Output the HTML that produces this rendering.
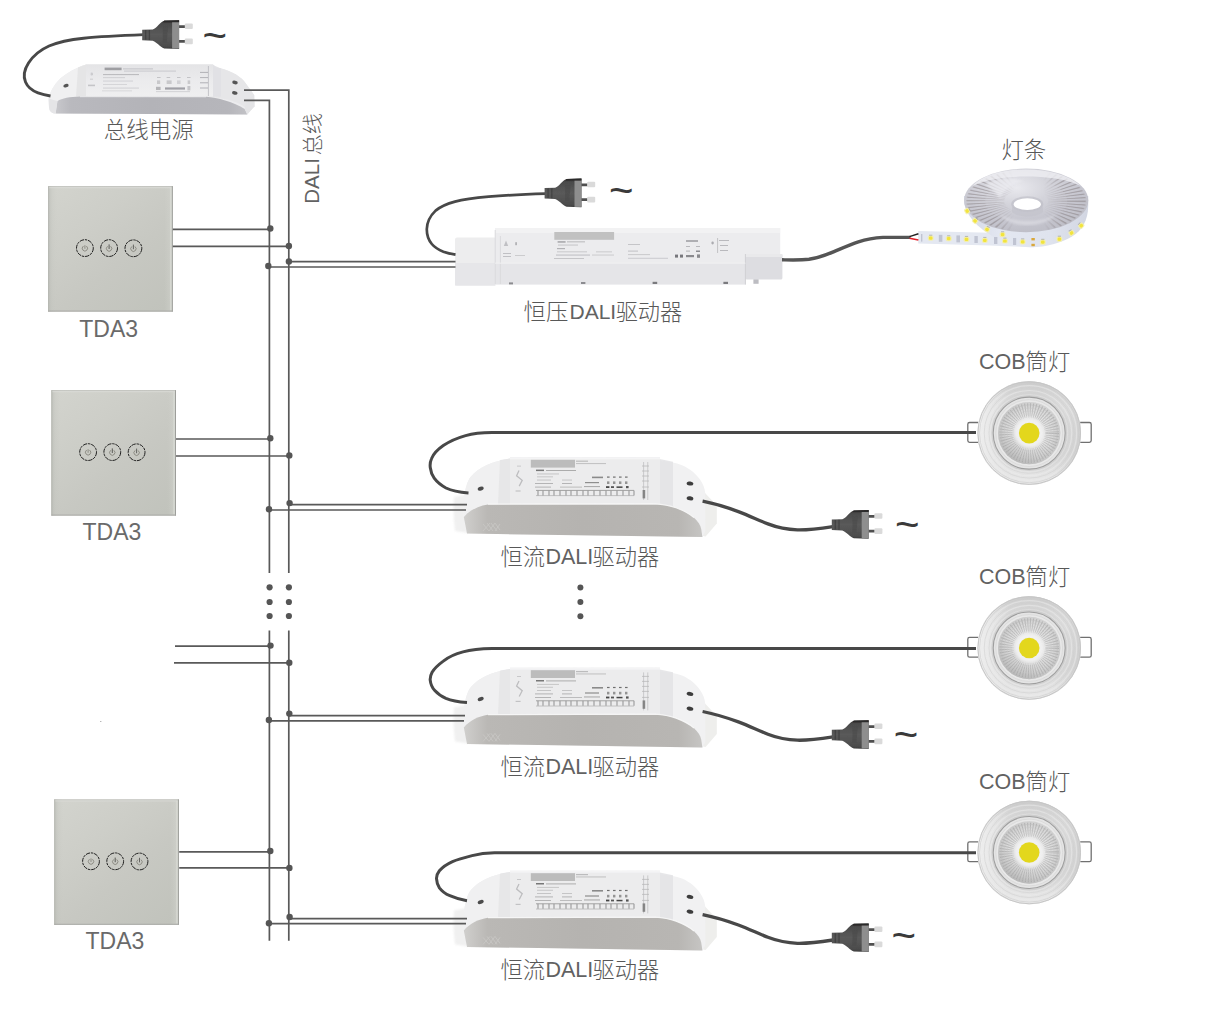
<!DOCTYPE html>
<html lang="zh">
<head>
<meta charset="utf-8">
<title>DALI 总线 接线图</title>
<style>
html,body{margin:0;padding:0;background:#fff;}
body{width:1220px;height:1036px;overflow:hidden;font-family:"Liberation Sans",sans-serif;}
svg{display:block;}
#labels text,#tildes text{font-family:"Liberation Sans","Noto Sans CJK SC",sans-serif;font-weight:300;}
</style>
</head>
<body>
<svg width="1220" height="1036" viewBox="0 0 1220 1036">
<defs>
  <filter id="b03" x="-5%" y="-5%" width="110%" height="110%"><feGaussianBlur stdDeviation="0.35"/></filter>
  <filter id="b05" x="-5%" y="-5%" width="110%" height="110%"><feGaussianBlur stdDeviation="0.55"/></filter>
  <filter id="b08" x="-5%" y="-5%" width="110%" height="110%"><feGaussianBlur stdDeviation="0.8"/></filter>
  <filter id="b15" x="-10%" y="-10%" width="120%" height="120%"><feGaussianBlur stdDeviation="1.5"/></filter>

  <!-- touch panel -->
  <linearGradient id="pgv" x1="0.1" y1="0" x2="0.9" y2="1">
    <stop offset="0" stop-color="#d2d3cd"/><stop offset="0.3" stop-color="#cdcec8"/>
    <stop offset="0.6" stop-color="#c7c8c2"/><stop offset="1" stop-color="#c1c3bc"/>
  </linearGradient>
  <linearGradient id="pgh" x1="0" y1="0" x2="1" y2="0">
    <stop offset="0" stop-color="#b4b6b0" stop-opacity="0.6"/><stop offset="0.035" stop-color="#c2c4be" stop-opacity="0.25"/><stop offset="0.07" stop-color="#c6c7c1" stop-opacity="0"/>
    <stop offset="0.93" stop-color="#d2d3cd" stop-opacity="0"/><stop offset="1" stop-color="#d6d8d2" stop-opacity="0.55"/>
  </linearGradient>
  <g id="pbtn">
    <circle r="8.4" fill="none" stroke="#161616" stroke-width="0.95" stroke-dasharray="4.4 0.9 2.4 0.8"/>
  </g>
  <g id="panel">
    <rect x="0" y="0" width="124.6" height="125.4" fill="url(#pgv)"/>
    <rect x="0" y="0" width="124.6" height="125.4" fill="url(#pgh)"/>
    <path d="M0.4 0V125.4" stroke="#aeb0aa" stroke-width="0.8" opacity=".8"/>
    <path d="M0 0.5H124.6" stroke="#b8b9b4" stroke-width="1" opacity=".7"/>
    <path d="M1 1.5H123.6" stroke="#dddeda" stroke-width="1" opacity=".8"/>
    <path d="M124.1 0V125.4" stroke="#9d9e9a" stroke-width="1"/>
    <path d="M122.6 1.5V124" stroke="#dcded8" stroke-width="1.4" opacity=".7"/>
    <path d="M0 124.9H124.6" stroke="#a6a7a3" stroke-width="1" opacity=".9"/>
    <use href="#pbtn" x="36.7" y="61.9"/>
    <use href="#pbtn" x="60.9" y="61.9"/>
    <use href="#pbtn" x="85.2" y="62.1"/>
    <g fill="none" stroke="#7d7c74" stroke-width="0.8" stroke-linecap="round">
      <path d="M34.9 60.1a2.7 2.7 0 1 0 3.6 0M36.7 59.4v2.8"/>
      <path d="M59.1 60.3a2.7 2.7 0 1 0 3.6 0"/><path d="M60.9 58.6v3.8" stroke="#3c3c3a"/>
      <path d="M83.4 60.5a2.7 2.7 0 1 0 3.6 0"/><path d="M85.2 58.8v3.8" stroke="#4a4a48"/>
    </g>
  </g>

  <!-- mains plug : origin = left end of neck, vertical centre -->
  <linearGradient id="plg" x1="0" y1="0" x2="0" y2="1">
    <stop offset="0" stop-color="#2e2c2c"/><stop offset="0.12" stop-color="#4a4a4a"/><stop offset="0.5" stop-color="#5a5a5a"/>
    <stop offset="0.9" stop-color="#4c4c4c"/><stop offset="1" stop-color="#3c3c3c"/>
  </linearGradient>
  <linearGradient id="prg" x1="0" y1="0" x2="1" y2="0">
    <stop offset="0" stop-color="#4a4a4a"/><stop offset="0.4" stop-color="#5c5c5c"/><stop offset="0.46" stop-color="#d2d2d2"/><stop offset="1" stop-color="#e4e4e4"/>
  </linearGradient>
  <g id="plug">
    <g filter="url(#b03)">
      <path d="M36 -9.4H43V-6.7H36Z M36 5.4H43V8.1H36Z" fill="#505050"/>
      <rect x="42.6" y="-11.2" width="8" height="5.6" rx="1" fill="#dadada"/>
      <rect x="42.6" y="3.8" width="8" height="5.8" rx="1" fill="#dadada"/>
      <path d="M0 -4.9 L10.5 -5.2 C15 -6.8 17.5 -12.3 22 -13.9 L36.9 -14.3 V14.3 L22 13.9 C17.5 12.3 15 7.6 10.5 6.1 L0 5.6 Z" fill="url(#plg)"/>
      <rect x="29.9" y="-12.6" width="7" height="26.6" fill="#8e8e8e"/>
      <path d="M22 -14 L36.9 -14.3 V-12.3 H21 Z" fill="#2b2929"/>
      <path d="M3.5 -4.5V5.2M7.2 -4.6V5.4" stroke="#3a3a3a" stroke-width="1.3" opacity=".7"/>
      <path d="M20.5 -8 L26 -8 L24.5 8 L20.5 8Z" fill="#4b4b4b" opacity=".6"/>
    </g>
  </g>

  <!-- bus power supply gradients -->
  <linearGradient id="psuF" x1="0" y1="0" x2="1" y2="0">
    <stop offset="0" stop-color="#c8c8cc"/><stop offset="0.08" stop-color="#b9b9be"/><stop offset="0.5" stop-color="#b3b3b8"/>
    <stop offset="0.9" stop-color="#b6b6bb"/><stop offset="1" stop-color="#c2c2c6"/>
  </linearGradient>
  <linearGradient id="psuT" x1="0" y1="0" x2="0" y2="1">
    <stop offset="0" stop-color="#e4e4e6"/><stop offset="0.5" stop-color="#ebebed"/><stop offset="1" stop-color="#efeff0"/>
  </linearGradient>

  <!-- CC driver -->
  <linearGradient id="ccF" x1="0" y1="0" x2="1" y2="0">
    <stop offset="0" stop-color="#d0cfcd"/><stop offset="0.1" stop-color="#bab8b5"/><stop offset="0.5" stop-color="#b5b3b0"/>
    <stop offset="0.9" stop-color="#b8b6b3"/><stop offset="1" stop-color="#c6c5c3"/>
  </linearGradient>
  <g id="ccdrv">
    <g filter="url(#b05)">
      <!-- silhouette / top faces -->
      <path d="M454 497 Q452.6 512 455 531 L468 533 L468 494 Z" fill="#ebebeb" opacity=".75" filter="url(#b08)"/>
      <path d="M705 493 L716.8 505.6 L716.8 523.6 L705.6 536.6 L703 536 Z" fill="#eeeeec"/>
      <path d="M510 457.6 L659.6 457.3 L660.4 461 C668 461.4 676 462.8 682 465.2 C690 468.6 696 474 700 479.5 C703 484 704.8 488 705.2 493 L705.4 531 L702.6 537 L467 533.6 L463.6 517 L464.4 496 C465.6 487 467.5 481 470.5 477 C478 468 492 461.2 510 458.6 Z" fill="#f1f1f2"/>
      <!-- left cap subtle shading -->
      <path d="M510 458.6 C492 461.2 478 468 470.5 477 C467.5 481 465.6 487 464.4 496 L463.6 517 C470 511 478 507 488 505.4 L510 505.2Z" fill="#f0f0f1"/>
      <path d="M500 460 L510 458.6 V505.2 H498 Z" fill="#e2e2e4" opacity=".7"/>
      <!-- right cap -->
      <path d="M659.6 459 L673 461.8 V507.6 L659.6 505.2Z" fill="#e3e3e5" opacity=".85"/>
      <!-- label face -->
      <rect x="510" y="457.3" width="150" height="46.8" fill="#ececed"/>
      <rect x="510" y="457.3" width="150" height="2" fill="#f4f4f5"/>
      <!-- front face -->
      <path d="M463.8 517 C470 510 478 506 488 504.4 L655 503.9 C664 504.5 671 506 676 507.8 C684 510.8 690 514.2 694 517.8 C698 521.4 700.4 525 701.2 529 L702.4 537 L467 533.6 Z" fill="url(#ccF)"/>
      <path d="M488 504.2 L655 503.8 C664 504.4 671 506 676 507.7 C684 510.7 690 514 694 517.6" fill="none" stroke="#f8f8f8" stroke-width="1.2" opacity=".9"/>
      <!-- embossed mark on front -->
      <g stroke="#c9c8c6" stroke-width="1" opacity=".8" fill="none"><path d="M483 524l6 7M487 523l6 8M491 523l6 8M495 523l5 7M483 531l7-8M489 531l6-8M495 531l5-7"/></g>
    </g>
    <g filter="url(#b03)">
      <!-- brand label + text -->
      <rect x="530.8" y="459.8" width="44.2" height="7.8" fill="#bcbcbc"/>
      <g fill="#9c9c9c">
        <rect x="576" y="460.6" width="12" height="1.2" opacity=".6"/><rect x="576" y="463" width="30" height="1.1" opacity=".5"/>
        <rect x="536" y="469.6" width="8" height="1.5" fill="#777"/><rect x="546" y="470" width="30" height="1" opacity=".8"/>
        <rect x="537" y="473.5" width="22" height="0.9" opacity=".55"/><rect x="537" y="476.4" width="16" height="0.9" opacity=".5"/>
        <rect x="537" y="479.6" width="14" height="0.9" opacity=".55"/><rect x="562" y="479.6" width="10" height="0.9" opacity=".55"/>
        <rect x="535" y="483" width="18" height="1" opacity=".7"/><rect x="562" y="483" width="10" height="1" opacity=".7"/><rect x="585" y="482" width="14" height="1.2" fill="#777" opacity=".8"/>
        <rect x="535" y="486.6" width="16" height="1" opacity=".7"/><rect x="560" y="486.6" width="22" height="1" opacity=".6"/><rect x="584" y="486" width="16" height="1.1" opacity=".8"/>
        <rect x="592" y="476.6" width="11" height="1.6" fill="#8a8a8a"/>
      </g>
      <g fill="#6e6e6e"><rect x="607" y="476.5" width="2.6" height="1.2"/><rect x="613" y="476.5" width="2.6" height="1.2"/><rect x="619" y="476.5" width="2.6" height="1.2"/><rect x="625" y="476.5" width="2.6" height="1.2"/>
        <rect x="607" y="481.4" width="2.4" height="2.6" opacity=".7"/><rect x="613" y="481.4" width="2.4" height="2.6" opacity=".7"/><rect x="619" y="481.4" width="2.4" height="2.6" opacity=".7"/><rect x="625" y="481.4" width="2.4" height="2.6" opacity=".7"/>
        <rect x="606" y="486.2" width="3.4" height="1.8" fill="#444"/><rect x="611" y="486.2" width="3" height="1.8" fill="#555"/><rect x="616.5" y="486.4" width="6" height="1.5" fill="#444"/><rect x="626" y="486" width="2.6" height="2.2" fill="#555"/>
      </g>
      <!-- terminal row -->
      <g stroke="#8a8a8a" stroke-width="0.9" opacity=".85"><path d="M536 490.4H634"/><path d="M536 495.6H634" opacity=".6"/>
        <path d="M538 490.4v5M543 490.4v5M549 490.4v5M554 490.4v5M560 490.4v5M566 490.4v5M571 490.4v5M577 490.4v5M583 490.4v5M588 490.4v5M594 490.4v5M600 490.4v5M606 490.4v5M611 490.4v5M617 490.4v5M623 490.4v5M629 490.4v5M634 490.4v5" stroke-width="1.1"/></g>
      <!-- safety symbol -->
      <path d="M519 470.5l-2.4 5.2 5.6 4.6-3 5.8" fill="none" stroke="#bdbdbf" stroke-width="1.3"/>
      <rect x="515.6" y="490.4" width="5" height="1.2" fill="#c2c2c4"/><rect x="517" y="465.6" width="4" height="1" fill="#c8c8ca"/>
      <!-- right column marks -->
      <g stroke="#b5b5b7" stroke-width="0.9"><path d="M643.6 462v38M647.8 462v38" opacity=".7"/><path d="M642 466h7M642 471h7M642 476h7M642 481h7M642 487h7" opacity=".8"/></g>
      <rect x="642.6" y="490" width="2.6" height="8.4" fill="#777" opacity=".85"/>
      <!-- screw holes -->
      <ellipse cx="480.7" cy="488.6" rx="3.1" ry="1.9" fill="#4c4c4c" transform="rotate(-18 480.7 488.6)"/>
      <ellipse cx="690" cy="483.5" rx="3.4" ry="2" fill="#3e3e3e" transform="rotate(10 690 483.5)"/>
      <ellipse cx="690" cy="498.3" rx="3.4" ry="2" fill="#3e3e3e" transform="rotate(10 690 498.3)"/>
    </g>
  </g>

  <!-- COB downlight, origin at centre -->
  <linearGradient id="cobO" x1="0.1" y1="0" x2="0.9" y2="1">
    <stop offset="0" stop-color="#e2e2e2"/><stop offset="0.3" stop-color="#dcdcdc"/><stop offset="0.55" stop-color="#e0e0e0"/>
    <stop offset="0.8" stop-color="#d8d8d8"/><stop offset="1" stop-color="#dedede"/>
  </linearGradient>
  <linearGradient id="cobO2" x1="0" y1="0" x2="1" y2="0">
    <stop offset="0" stop-color="#f3f3f3" stop-opacity=".9"/><stop offset="0.3" stop-color="#ececec" stop-opacity="0"/>
    <stop offset="0.72" stop-color="#d0d0d0" stop-opacity="0"/><stop offset="1" stop-color="#cccccc" stop-opacity=".6"/>
  </linearGradient>
  <linearGradient id="cobV" x1="0" y1="0" x2="0" y2="1">
    <stop offset="0" stop-color="#c6c6c6" stop-opacity=".75"/><stop offset="0.3" stop-color="#d0d0d0" stop-opacity="0"/>
    <stop offset="0.7" stop-color="#e8e8e8" stop-opacity="0"/><stop offset="1" stop-color="#f0f0f0" stop-opacity=".75"/>
  </linearGradient>
  <radialGradient id="cobR" cx="0.5" cy="0.5" r="0.5">
    <stop offset="0" stop-color="#f4f4f4"/><stop offset="0.42" stop-color="#eaeaea"/><stop offset="0.75" stop-color="#dadada"/><stop offset="1" stop-color="#c6c6c6"/>
  </radialGradient>
  <linearGradient id="cobRs" x1="0.8" y1="0" x2="0.2" y2="1">
    <stop offset="0" stop-color="#fff" stop-opacity=".25"/><stop offset="0.5" stop-color="#d0d0d0" stop-opacity="0"/><stop offset="1" stop-color="#a8a8a8" stop-opacity=".7"/>
  </linearGradient>
  <g id="cob">
    <!-- spring clips -->
    <g fill="none" stroke="#707070" stroke-width="1.3" stroke-linejoin="round">
      <path d="M-51 -10.6 H-59.6 Q-61.4 -10.6 -61.4 -8.8 V7.4 Q-61.4 9.2 -59.6 9.2 H-51" />
      <path d="M51 -10.6 H60.2 Q62 -10.6 62 -8.8 V7.4 Q62 9.2 60.2 9.2 H51"/>
    </g>
    <g filter="url(#b03)">
      <circle r="51.8" fill="url(#cobO)"/>
      <circle r="51.8" fill="url(#cobV)"/>
      <circle r="51.8" fill="url(#cobO2)"/>
      <g fill="none" opacity=".55">
        <circle r="49.6" stroke="#cacaca" stroke-width="1"/><circle r="47.4" stroke="#ebebeb" stroke-width="1.2"/>
        <circle r="45" stroke="#d0d0d0" stroke-width="1"/><circle r="42.6" stroke="#ececec" stroke-width="1.2"/>
        <circle r="40.2" stroke="#d2d2d2" stroke-width="1"/><circle r="38.4" stroke="#e6e6e6" stroke-width="1"/>
      </g>
      <circle r="51.3" fill="none" stroke="#c6c6c6" stroke-width="1"/>
      <circle r="37.2" fill="none" stroke="#c9c9c9" stroke-width="1.4" opacity=".7"/>
      <circle r="36" fill="#e4e4e4" stroke="#9e9e9e" stroke-width="1.1"/>
      <circle r="33.4" fill="#e8e8e8" stroke="#d8d8d8" stroke-width="0.8"/>
      <circle r="31.2" fill="url(#cobR)"/>
      <circle r="31.2" fill="url(#cobRs)"/>
      <!-- radial ribs -->
      <circle r="22.8" fill="none" stroke="#a2a2a2" stroke-width="14" stroke-dasharray="0.9 1.487" opacity=".6"/>
      <circle r="28.2" fill="none" stroke="#bdbdbd" stroke-width="0.8" opacity=".7"/><circle r="25" fill="none" stroke="#c6c6c6" stroke-width="0.7" opacity=".7"/>
      <circle r="22" fill="none" stroke="#c8c8c8" stroke-width="0.7" opacity=".7"/><circle r="19.2" fill="none" stroke="#d0d0d0" stroke-width="0.7" opacity=".7"/>
      <circle r="16.5" fill="none" stroke="#e2e2e2" stroke-width="0.7" opacity=".8"/>
      <circle r="14" fill="#f2f2f2" opacity=".85" filter="url(#b08)"/>
      <circle r="10.3" fill="#e3d71f"/>
    </g>
  </g>

  <!-- LED strip gradients -->
  <radialGradient id="coilT" cx="0.42" cy="0.3" r="0.75">
    <stop offset="0" stop-color="#e9e9ee"/><stop offset="0.35" stop-color="#d4d4db"/><stop offset="0.7" stop-color="#c6c6cf"/><stop offset="1" stop-color="#bdbdc6"/>
  </radialGradient>
  <linearGradient id="coilS" x1="0" y1="0" x2="1" y2="0">
    <stop offset="0" stop-color="#d5d9e6"/><stop offset="0.3" stop-color="#e3e7f1"/><stop offset="0.7" stop-color="#dfe3ee"/><stop offset="1" stop-color="#d2d6e2"/>
  </linearGradient>
  <linearGradient id="lrg" x1="0" y1="0" x2="1" y2="0">
    <stop offset="0" stop-color="#fff"/><stop offset="0.26" stop-color="#fff"/><stop offset="0.4" stop-color="#000"/>
    <stop offset="0.62" stop-color="#000"/><stop offset="0.76" stop-color="#fff"/><stop offset="1" stop-color="#fff"/>
  </linearGradient>
  <mask id="lrmask" maskUnits="userSpaceOnUse" x="960" y="160" width="135" height="90"><rect x="960" y="160" width="135" height="90" fill="url(#lrg)"/></mask>
  <g id="led"><rect x="-2.9" y="-2.5" width="5.8" height="5.2" rx="1.6" fill="#f4eeaa" opacity=".9"/><rect x="-1.8" y="-1.5" width="3.6" height="3.2" rx="1.2" fill="#f2e43c"/><rect x="-1.6" y="-3.3" width="3.2" height="1" fill="#8d8c84" opacity=".55"/></g>
</defs>

<rect width="1220" height="1036" fill="#ffffff"/>

<!-- ===== bus power supply ===== -->
<g id="psu">
  <g filter="url(#b05)">
    <path d="M86 64.6 L213 64.4 L216 67.6 C228 69 239 75.5 244 81 L254.2 95 L254.6 106.2 L247.2 114.6 L54 113.6 Q49.6 112.4 49 107.4 L48.6 98.4 C51.6 87 58 79.4 66 74.2 C73.5 69.4 80 66.4 86 64.6 Z" fill="#ececee"/>
    <path d="M86 64.6 C80 66.4 73.5 69.4 66 74.2 C58 79.4 51.6 87 48.6 98.4 L57.4 101.2 C62 98.4 70 96.8 80 96.6 L86 96.5Z" fill="#f0f0f1"/>
    <path d="M78 67.6 L86 64.6 V96.5 H76Z" fill="#e2e2e4" opacity=".8"/>
    <rect x="86" y="64.4" width="127" height="32.2" fill="url(#psuT)"/>
    <path d="M213 64.4 L216 67.6 C228 69 239 75.5 244 81 L254.2 95 L246 108 C236 100.4 222 97.6 206 96.8 L213 96.5Z" fill="#e6e6e8"/>
    <path d="M213 65 L221 68.5 V96.8 L213 96.5Z" fill="#e0e0e3" opacity=".8"/>
    <!-- front face -->
    <path d="M57.4 101.2 C62 98.4 70 96.8 80 96.6 L206 96.8 C218 97.8 232 101.4 244.7 109 L247.4 114.6 L55.6 113.6 Z" fill="url(#psuF)"/>
    <path d="M48.6 98.4 L57.4 101.2 L55.6 113.6 L54 113.6 Q49.6 112.4 49 107.4Z" fill="#e5e5e7"/>
    <path d="M244.7 109 L246 100.4 L254.2 95 L254.6 106.2 L247.2 114.6Z" fill="#e4e4e6"/>
    <path d="M80 96.7 L206 96.8" stroke="#f4f4f5" stroke-width=".9" opacity=".8"/>
  </g>
  <g filter="url(#b03)">
    <!-- label text marks -->
    <g fill="#9a9aa0" opacity=".8" filter="url(#b03)">
      <rect x="104.6" y="67.6" width="17" height="2.6" fill="#7c7c82" opacity=".85"/><rect x="123" y="68.4" width="30" height="1" opacity=".6"/><rect x="124" y="70.6" width="52" height="0.9" opacity=".55"/>
      <rect x="103" y="74" width="36" height="1.1" opacity=".7"/><rect x="103" y="77.2" width="22" height="0.9" opacity=".45"/>
      <rect x="103" y="80.6" width="30" height="0.9" opacity=".45"/><rect x="103" y="84" width="24" height="0.9" opacity=".4"/>
      <rect x="103" y="87.6" width="36" height="0.9" opacity=".5"/><rect x="102" y="90.4" width="30" height="0.9" opacity=".35"/>
      <rect x="88" y="84.6" width="7" height="1.6" opacity=".6"/><rect x="90.6" y="72.6" width="2.4" height="2.8" rx="1.2" opacity=".45"/><rect x="90" y="78.6" width="3" height="1.2" opacity=".4"/>
      <rect x="157" y="77" width="3.6" height="1" opacity=".6"/><rect x="166.6" y="77" width="3.6" height="1" opacity=".6"/><rect x="177" y="77" width="3.6" height="1" opacity=".6"/><rect x="187" y="77" width="3.6" height="1" opacity=".6"/>
      <rect x="157" y="80.4" width="3.2" height="3.6" opacity=".55"/><rect x="166.6" y="80.4" width="5" height="3.6" opacity=".55"/><rect x="177" y="80.4" width="3.6" height="3.6" opacity=".4"/><rect x="187.6" y="80.4" width="2.6" height="3.6" opacity=".55"/>
      <rect x="156" y="86.8" width="4.6" height="3.2" fill="#8a8a90" opacity=".7"/><rect x="165" y="87.4" width="20" height="2.2" fill="#77777d" opacity=".8"/><rect x="187.4" y="86" width="3" height="4.4" opacity=".6"/>
      <rect x="156" y="91.2" width="34" height="0.9" opacity=".45"/>
    </g>
    <g stroke="#b9b9be" stroke-width=".9" opacity=".9"><path d="M208.4 66V96"/><path d="M200 72.4h8M200 77.6h8M200 82.8h8M200 88h8" stroke="#a4a4aa"/></g>
    <ellipse cx="66" cy="85.7" rx="2.7" ry="1.7" fill="#555" transform="rotate(-15 66 85.7)"/>
    <ellipse cx="235" cy="82.5" rx="2.8" ry="1.8" fill="#555" transform="rotate(10 235 82.5)"/>
    <ellipse cx="234.8" cy="92.9" rx="2.8" ry="1.8" fill="#555" transform="rotate(10 234.8 92.9)"/>
  </g>
</g>

<!-- ===== constant-voltage DALI driver ===== -->
<g id="cvdrv">
  <g filter="url(#b05)">
    <!-- left end cap -->
    <path d="M457 237.4 H495.4 V285.6 H457 Q455 285.6 455 283.6 V239.4 Q455 237.4 457 237.4Z" fill="#ededee"/>
    <rect x="455" y="263" width="40.4" height="22.6" fill="#e6e6e9"/>
    <!-- main body -->
    <rect x="495.2" y="228" width="285" height="35.4" fill="#ececee"/>
    <rect x="495.2" y="228" width="285" height="5" fill="#f2f2f3"/>
    <rect x="495.2" y="263" width="250.2" height="21.6" fill="#e5e5e8"/>
    <rect x="745.4" y="254" width="37" height="25.4" rx="1.5" fill="#dddde1"/>
    <rect x="745.4" y="254" width="37" height="3" fill="#e9e9eb"/>
    <path d="M495.2 230V284M500.4 236V284" stroke="#dadadd" stroke-width="1"/>
    <path d="M745.4 254V284.6" stroke="#d0d0d4" stroke-width="1"/>
    <path d="M495.2 263.2H745.4" stroke="#f1f1f2" stroke-width="1"/>
    <path d="M753.4 279.4h5.2v4.4h-5.2z" fill="#bdbdc2"/>
  </g>
  <g filter="url(#b03)">
    <rect x="554.3" y="232" width="59.8" height="7.8" fill="#c1c1c1"/>
    <g fill="#a4a4a8">
      <rect x="557.6" y="241.4" width="8" height="1.1" fill="#8c8c90"/><rect x="567" y="241.4" width="18" height="0.9" opacity=".8"/>
      <rect x="558" y="244.6" width="20" height="0.9" opacity=".6"/><rect x="557" y="248" width="8" height="1.2" opacity=".8"/>
      <rect x="557" y="251.4" width="30" height="0.9" opacity=".55"/><rect x="556" y="254.6" width="34" height="0.9" opacity=".7"/><rect x="554" y="258" width="30" height="0.9" opacity=".6"/>
      <rect x="596" y="251.4" width="16" height="0.9" opacity=".5"/><rect x="592" y="254.6" width="22" height="0.9" opacity=".5"/>
      <rect x="628" y="244" width="12" height="0.9" opacity=".6"/><rect x="628" y="250.6" width="10" height="1" opacity=".6"/><rect x="628" y="254.2" width="22" height="0.9" opacity=".55"/><rect x="628" y="257.8" width="40" height="0.9" opacity=".5"/>
      <rect x="686" y="240.2" width="12" height="1.6" fill="#8e8e92" opacity=".8"/><rect x="686" y="246" width="4" height="1" opacity=".7"/><rect x="696" y="246" width="4" height="1" opacity=".7"/>
      <rect x="686" y="250.6" width="4" height="1" opacity=".8"/><rect x="696" y="250.6" width="4" height="1.2" fill="#77777b"/>
      <rect x="675" y="254.6" width="3" height="3" fill="#77777b"/><rect x="680" y="254.6" width="3" height="3" fill="#77777b"/><rect x="686" y="255" width="8" height="2.2" fill="#8a8a8e"/><rect x="697" y="254.4" width="3" height="3.4" fill="#8a8a8e"/>
      <rect x="711.4" y="241.6" width="2.4" height="2.8" rx="1.1" opacity=".9"/>
      <rect x="719" y="240" width="10" height="1" opacity=".7"/><rect x="720" y="245" width="8" height="1" opacity=".7"/><rect x="720" y="250" width="8" height="1" opacity=".7"/>
      <path d="M506 240.6l2.2 5.4h-4.4z" opacity=".6"/><rect x="515.2" y="242.2" width="1.8" height="3" opacity=".8"/>
      <rect x="503" y="253" width="8" height="1" opacity=".6"/><rect x="503" y="256" width="8" height="1" opacity=".6"/><rect x="515" y="255" width="10" height="1" opacity=".45"/>
    </g>
    <path d="M717.6 238V253" stroke="#bcbcc0" stroke-width=".9"/>
    <g fill="#8c8c90"><rect x="509" y="282.4" width="4" height="2"/><rect x="581" y="282" width="4.4" height="2"/><rect x="652.6" y="281.8" width="4.6" height="2.2" fill="#7a7a7e"/><rect x="723.4" y="281.8" width="4.6" height="2.2" fill="#7a7a7e"/></g>
  </g>
</g>

<!-- ===== constant-current DALI drivers ===== -->
<use href="#ccdrv"/>
<use href="#ccdrv" transform="translate(0 210.4)"/>
<use href="#ccdrv" transform="translate(0 413.4)"/>

<!-- ===== LED strip ===== -->
<g id="strip">
  <g filter="url(#b05)">
    <!-- straight tail -->
    <path d="M918.2 230.9 L990 232.8 L1034 235.6 L1034 247.2 L990 245.6 L918.2 243.6Z" fill="#e4e8f1"/>
    <!-- coil side band -->
    <path d="M964 200 C964 212 975 226 992 236 C1004 242.6 1016 246.6 1030 247.2 C1046 247.4 1060 243.6 1072 236.6 C1082 230.4 1088.2 220 1088.2 206 L1088.2 196 L964 196Z" fill="url(#coilS)"/>
    <!-- coil top -->
    <ellipse cx="1026.2" cy="200.4" rx="62.1" ry="31.8" fill="url(#coilT)"/>
    <!-- streaks -->
    <g mask="url(#lrmask)">
      <g transform="translate(1026.2 201) scale(1 0.512)">
        <circle r="41" fill="none" stroke="#8d8588" stroke-width="38" stroke-dasharray="1.7 3.05" opacity=".38"/>
        <circle r="50" fill="none" stroke="#7f777a" stroke-width="18" stroke-dasharray="1.2 4.6" opacity=".3"/>
      </g>
    </g>
    <path d="M972 186 C984 174 1004 169.6 1026 169.4 C1048 169.6 1068 174 1081 186 C1066 179 1046 176.6 1026 176.6 C1006 176.6 987 179 972 186Z" fill="#f0f0f4" opacity=".75"/>
    <path d="M985 184 C998 177 1012 177 1024 181 C1012 184 1004 190 1000 198 C996 193 991 188 985 184Z" fill="#ececf1" opacity=".7" filter="url(#b08)"/>
    <path d="M1000 214 C1012 222 1040 224 1056 214 C1046 228 1010 230 1000 214Z" fill="#dadae1" opacity=".8" filter="url(#b08)"/>
    <ellipse cx="1027.3" cy="204.2" rx="16" ry="8" fill="#b9b9c2" opacity=".55"/>
    <ellipse cx="1027.3" cy="204.2" rx="13.6" ry="5.9" fill="#ffffff"/>
    <path d="M1012 207 C1018 213 1036 213 1043 207 L1043 212 C1036 218 1018 218 1012 212Z" fill="#c3c3cc" opacity=".7"/>
  </g>
  <g filter="url(#b03)">
    <g fill="#b8bccb" opacity=".8"><rect x="921" y="234" width="1.4" height="7.6"/><rect x="938.8" y="234.8" width="3.6" height="7"/><rect x="956.4" y="235.4" width="3.6" height="7"/><rect x="974.4" y="236" width="3.4" height="7"/><rect x="994" y="237" width="3.4" height="7"/><rect x="1013" y="238" width="3.2" height="7"/></g>
    <use href="#led" x="930.7" y="238.0"/><use href="#led" x="948.7" y="238.6"/>
    <use href="#led" x="966.5" y="239.2"/><use href="#led" x="984.8" y="240.2"/>
    <use href="#led" x="1004.9" y="240.9"/><use href="#led" x="1022.7" y="241.7"/>
    <use href="#led" x="1042.8" y="242.1"/><use href="#led" x="1059.4" y="239"/>
    <use href="#led" x="1071.5" y="232.9" transform="rotate(-30 1071.5 232.9)"/><use href="#led" x="1081.2" y="225.6" transform="rotate(-45 1081.2 225.6)"/>
    <use href="#led" x="1002.6" y="234.6"/><use href="#led" x="987.1" y="229.4" transform="rotate(25 987.1 229.4)"/>
    <use href="#led" x="975.1" y="220.8" transform="rotate(40 975.1 220.8)"/><use href="#led" x="967.2" y="211" transform="rotate(60 967.2 211)"/>
    <rect x="1031.4" y="238" width="3.4" height="2.4" fill="#d9a73a"/><rect x="1031.4" y="243.8" width="3.4" height="2.4" fill="#d9a73a"/>
  </g>
</g>

<!-- ===== COB downlights ===== -->
<use href="#cob" x="1029.2" y="433.1"/>
<use href="#cob" x="1029.2" y="648.0"/>
<use href="#cob" x="1029.2" y="852.5"/>

<!-- ===== touch panels ===== -->
<use href="#panel" x="48.2" y="186.2"/>
<use href="#panel" x="51.4" y="390.2"/>
<use href="#panel" x="54.3" y="799.4"/>

<!-- ===== cables ===== -->
<g id="cables">
<path d="M144 34.6 C120 35.5 100 36.5 83.6 38.2 C66 40 56 43 49 46 C40 50 33 56 28.5 63 C24 70 23 76 25.5 82 C28 88 33 91 38 92.8 C42 94.2 46 95.2 50.5 96" fill="none" stroke="#484848" stroke-width="2.9" stroke-linecap="butt"/>
<path d="M546 193.6 C525 194.3 505 195.3 488.7 196.7 C472 198.2 462 199.8 455 201.6 C446 204 440 207 435.6 210.6 C430 216 427 222 426.8 229 C426.7 235 428.5 240 431.8 244 C435 247.8 439 250 443.4 251.7 C447 253 451 253.9 455.5 254.6" fill="none" stroke="#484848" stroke-width="2.7" stroke-linecap="butt"/>
<path d="M782 259.8 C792 260 800 260.3 809 259.3 C818 258 826 255 834 251.6 C843 247.8 850 244.6 858.4 241.8 C867 239 875 237.8 883 237.4 L910.5 237.4" fill="none" stroke="#555" stroke-width="3.4" stroke-linecap="butt"/>
<path d="M909.5 236.6 L918.4 233.8" stroke="#222" stroke-width="1.5" fill="none"/>
<path d="M909.5 238.3 L918.4 240.1" stroke="#e0202a" stroke-width="1.5" fill="none"/>
<path d="M976 432.6 H492 C482 432.7 473 433.6 465.6 435.6 C457 438 449.5 441.3 443.3 445.6 C437.5 449.6 433.5 454 431.6 458.5 C430 462 429.9 465 430.3 467.8 C430.8 472 432 475.2 434.2 478.2 C437 482 441 485.3 446 488 C452 491 459 492.3 468.5 492.9" fill="none" stroke="#484848" stroke-width="3.0" stroke-linecap="butt"/>
<path d="M976 648.6 H492 C481 648.8 471 649.8 463 651.9 C455 654 448.5 657 443.3 661.1 C438 665 434.3 668.6 432.1 672.2 C430.6 675 430 677.6 430.2 680.1 C430.6 684 432 687.5 434.8 690.6 C437.5 693.7 441.3 696.3 445.9 698.4 C451.5 700.8 458 702 467 702.6" fill="none" stroke="#484848" stroke-width="3.0" stroke-linecap="butt"/>
<path d="M976 852.8 H494.5 C486 852.9 479 853.8 472.1 855.6 C464.5 857.5 458 859.2 452.5 861.6 C446.5 864.3 442.3 867.3 439.4 870.8 C437.2 873.6 436.4 876 436.5 878.6 C436.7 882 437.5 885 439.4 887.8 C441.8 891 445 893.6 449.8 895.7 C454.5 897.8 460 899.6 467 900.7" fill="none" stroke="#484848" stroke-width="3.0" stroke-linecap="butt"/>
<path d="M702.6 501.2 C714 503.5 726 507.0 738.4 511.6 C749 515.6 758 520.0 767.9 523.9 C778 527.8 787 529.6 797.4 529.9 C808 530.2 820 528.6 833 526.6" fill="none" stroke="#484848" stroke-width="3.3" stroke-linecap="butt"/>
<path d="M702.6 711.5 C714 713.8 726 717.3 738.4 721.9 C749 725.9 758 730.3 767.9 734.2 C778 738.1 787 739.9 797.4 740.2 C808 740.5 820 738.9 833 736.9" fill="none" stroke="#484848" stroke-width="3.3" stroke-linecap="butt"/>
<path d="M702.6 914.6 C714 916.9 726 920.4 738.4 925.0 C749 929.0 758 933.4 767.9 937.3 C778 941.2 787 943.0 797.4 943.3 C808 943.6 820 942.0 833 940.0" fill="none" stroke="#484848" stroke-width="3.3" stroke-linecap="butt"/>
</g>

<!-- ===== wiring (DALI bus) ===== -->
<g id="bus">
<path d="M244 90.2H288.8V573" fill="none" stroke="#595959" stroke-width="1.7"/>
<path d="M244 100.4H269.4V573" fill="none" stroke="#595959" stroke-width="1.7"/>
<line x1="269.4" y1="630.5" x2="269.4" y2="940.7" stroke="#595959" stroke-width="1.7"/>
<line x1="288.8" y1="630.5" x2="288.8" y2="940.7" stroke="#595959" stroke-width="1.7"/>
<line x1="172.8" y1="229.4" x2="269.4" y2="229.4" stroke="#595959" stroke-width="1.7"/>
<circle cx="270.3" cy="228.5" r="3.2" fill="#555"/>
<line x1="172.8" y1="246.4" x2="288.8" y2="246.4" stroke="#595959" stroke-width="1.7"/>
<circle cx="288.9" cy="246.0" r="3.2" fill="#555"/>
<line x1="288.8" y1="261.6" x2="455.5" y2="261.6" stroke="#595959" stroke-width="1.7"/>
<circle cx="288.9" cy="261.5" r="3.2" fill="#555"/>
<line x1="269.4" y1="267.0" x2="455.5" y2="267.0" stroke="#595959" stroke-width="1.7"/>
<circle cx="268.3" cy="266.0" r="3.2" fill="#555"/>
<line x1="176.0" y1="439.0" x2="269.4" y2="439.0" stroke="#595959" stroke-width="1.7"/>
<circle cx="270.3" cy="438.2" r="3.2" fill="#555"/>
<line x1="176.0" y1="456.0" x2="288.8" y2="456.0" stroke="#595959" stroke-width="1.7"/>
<circle cx="289.3" cy="455.4" r="3.2" fill="#555"/>
<line x1="288.8" y1="504.7" x2="467.0" y2="504.7" stroke="#595959" stroke-width="1.7"/>
<circle cx="289.6" cy="503.1" r="3.2" fill="#555"/>
<line x1="269.4" y1="510.0" x2="466.0" y2="510.0" stroke="#595959" stroke-width="1.7"/>
<circle cx="269.0" cy="509.2" r="3.2" fill="#555"/>
<line x1="175.0" y1="646.2" x2="269.4" y2="646.2" stroke="#595959" stroke-width="1.7"/>
<circle cx="270.5" cy="645.6" r="3.2" fill="#555"/>
<line x1="174.0" y1="662.9" x2="288.8" y2="662.9" stroke="#595959" stroke-width="1.7"/>
<circle cx="289.3" cy="662.8" r="3.2" fill="#555"/>
<line x1="288.8" y1="715.6" x2="465.0" y2="715.6" stroke="#595959" stroke-width="1.7"/>
<circle cx="289.3" cy="713.6" r="3.2" fill="#555"/>
<line x1="269.4" y1="720.8" x2="464.0" y2="720.8" stroke="#595959" stroke-width="1.7"/>
<circle cx="268.9" cy="720.0" r="3.2" fill="#555"/>
<line x1="179.2" y1="851.8" x2="269.4" y2="851.8" stroke="#595959" stroke-width="1.7"/>
<circle cx="270.3" cy="851.0" r="3.2" fill="#555"/>
<line x1="179.2" y1="867.9" x2="288.8" y2="867.9" stroke="#595959" stroke-width="1.7"/>
<circle cx="289.4" cy="867.9" r="3.2" fill="#555"/>
<line x1="288.8" y1="918.7" x2="467.0" y2="918.7" stroke="#595959" stroke-width="1.7"/>
<circle cx="289.6" cy="917.0" r="3.2" fill="#555"/>
<line x1="269.4" y1="923.7" x2="466.0" y2="923.7" stroke="#595959" stroke-width="1.7"/>
<circle cx="268.9" cy="923.2" r="3.2" fill="#555"/>
<circle cx="269.6" cy="587.3" r="3.1" fill="#555"/>
<circle cx="288.9" cy="587.3" r="3.1" fill="#555"/>
<circle cx="269.6" cy="602.0" r="3.1" fill="#555"/>
<circle cx="288.9" cy="602.0" r="3.1" fill="#555"/>
<circle cx="269.6" cy="616.0" r="3.1" fill="#555"/>
<circle cx="288.9" cy="616.0" r="3.1" fill="#555"/>
<circle cx="580.4" cy="587.4" r="3.0" fill="#555"/>
<circle cx="580.4" cy="602.0" r="3.0" fill="#555"/>
<circle cx="580.4" cy="616.2" r="3.0" fill="#555"/>
<rect x="100.3" y="721" width="1" height="1" fill="#999"/>
</g>

<!-- ===== plugs ===== -->
<use href="#plug" x="142.2" y="34.6"/>
<use href="#plug" x="544.6" y="192.9"/>
<use href="#plug" x="831.8" y="524.4"/>
<use href="#plug" x="831.8" y="734.6"/>
<use href="#plug" x="831.8" y="937.7"/>
<g id="tildes" fill="#3a3a3a" font-size="42" text-anchor="middle">
<text x="214.8" y="50">~</text>
<text x="621.2" y="205">~</text>
<text x="907.3" y="538.5">~</text>
<text x="906.1" y="749">~</text>
<text x="903.7" y="950">~</text>
</g>

<!-- ===== labels ===== -->
<g id="labels">
<text x="103.8" y="138.1" font-size="22.5" fill="#585858">总线电源</text>
<text x="79.3" y="336.6" font-size="23" fill="#6a6a6a">TDA3</text>
<text x="82.5" y="540.3" font-size="23" fill="#6a6a6a">TDA3</text>
<text x="85.5" y="949.3" font-size="23" fill="#6a6a6a">TDA3</text>

<text x="523.6" y="320.2" font-size="22.4" fill="#585858">恒压</text>
<text x="569.5" y="319" font-size="21" fill="#626262">DALI</text>
<text x="615.7" y="320.2" font-size="22.2" fill="#585858">驱动器</text>

<text x="500.4" y="565" font-size="22.3" fill="#585858">恒流</text>
<text x="545.4" y="563.5" font-size="21.5" fill="#626262">DALI</text>
<text x="592.6" y="565" font-size="22.2" fill="#585858">驱动器</text>

<text x="500.4" y="775.3" font-size="22.3" fill="#585858">恒流</text>
<text x="545.4" y="773.8" font-size="21.5" fill="#626262">DALI</text>
<text x="592.6" y="775.3" font-size="22.2" fill="#585858">驱动器</text>

<text x="500.4" y="978" font-size="22.3" fill="#585858">恒流</text>
<text x="545.4" y="976.5" font-size="21.5" fill="#626262">DALI</text>
<text x="592.6" y="978" font-size="22.2" fill="#585858">驱动器</text>

<text x="1001.4" y="158.3" font-size="22.4" fill="#585858">灯条</text>

<text x="979" y="368.5" font-size="21.5" fill="#626262">COB</text>
<text x="1025.6" y="369.6" font-size="22.3" fill="#585858">筒灯</text>
<text x="979" y="583.6" font-size="21.5" fill="#626262">COB</text>
<text x="1025.6" y="584.7" font-size="22.3" fill="#585858">筒灯</text>
<text x="979" y="788.5" font-size="21.5" fill="#626262">COB</text>
<text x="1025.6" y="789.6" font-size="22.3" fill="#585858">筒灯</text>

<g transform="translate(301.7 202.7) rotate(-90)"><text x="-1" y="17.2" font-size="20.5" fill="#626262">DALI</text></g>
<g transform="translate(300.1 154.4) rotate(-90)"><text x="-0.9" y="20" font-size="21" fill="#585858">总线</text></g>
</g>
</svg>
</body>
</html>
